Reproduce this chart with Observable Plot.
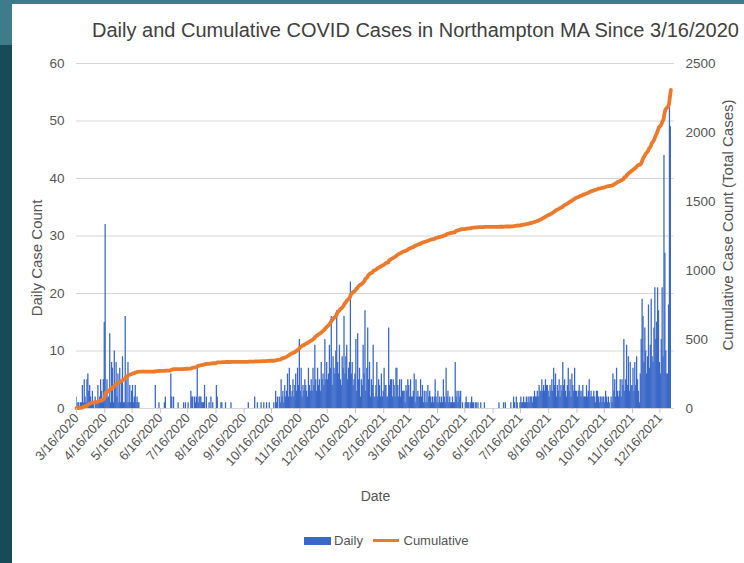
<!DOCTYPE html>
<html>
<head>
<meta charset="utf-8">
<script src="https://cdn.jsdelivr.net/npm/d3@7"></script>
<script src="https://cdn.jsdelivr.net/npm/@observablehq/plot@0.6"></script>
<style>
  html, body { margin: 0; padding: 0; }
  body { width: 744px; height: 563px; overflow: hidden; position: relative; background: #174b57;
         font-family: "Liberation Sans", Arial, Helvetica, sans-serif; }
  #topbar { position: absolute; left: 0; top: 0; width: 744px; height: 4px; background: #3f7c8b; }
  #lefttop { position: absolute; left: 0; top: 0; width: 12px; height: 45px; background: #3f7c8b; }
  #panel { position: absolute; left: 12px; top: 4px; width: 732px; height: 559px; background: #fff; overflow: hidden; }
  #title { position: absolute; left: 80px; top: 16px; font-size: 20px; line-height: 20px; color: #404040; white-space: nowrap; }
  #chart { position: absolute; left: 0; top: 46px; }
  .vlabel { position: absolute; white-space: nowrap; color: #555; font-size: 15px; transform: translate(-50%, -50%) rotate(-90deg); }
  #xlabel { position: absolute; left: 363.5px; top: 492px; transform: translate(-50%, -50%); font-size: 14px; color: #555; }
  .leg { position: absolute; font-size: 13px; color: #555; transform: translate(0, -50%); white-space: nowrap; }
</style>
</head>
<body>
<div id="topbar"></div>
<div id="lefttop"></div>
<div id="panel">
  <div id="title">Daily and Cumulative COVID Cases in Northampton MA Since 3/16/2020</div>
  <div id="chart"></div>
  <div class="vlabel" style="left:24px;top:254px;">Daily Case Count</div>
  <div class="vlabel" style="left:714.5px;top:220.5px;">Cumulative Case Count (Total Cases)</div>
  <div id="xlabel">Date</div>
  <div id="legend"></div>
</div>
<script>
// ---- data ----
const startDate = "2020-03-16";   // first day of the series
const endDate = "2022-01-01";     // right end of the date axis

// daily new cases, one value per day from 3/16/2020, grouped 16th -> 15th
const daily = [
  // 3/16 - 4/15/2020
  2,0,1,1,0,1,1,4,1,5,2,1,5,6,3,4,2,1,3,1,0,2,1,1,4,1,2,5,3,1,5,
  // 4/16 - 5/15/2020
  15,32,2,5,2,2,13,1,8,7,1,10,4,8,2,6,1,7,1,5,9,1,1,16,5,1,8,1,4,1,
  // 5/16 - 6/15/2020
  3,4,1,2,4,1,2,1,1,0,0,0,0,0,0,0,0,0,0,0,0,0,0,0,0,0,4,0,0,0,1,
  // 6/16 - 7/15/2020
  0,0,0,0,0,1,2,0,0,0,0,0,6,2,0,2,0,0,0,0,1,0,0,0,0,0,1,0,1,0,
  // 7/16 - 8/15/2020
  0,1,0,0,3,2,2,0,2,1,2,7,1,2,2,2,1,1,1,4,0,2,0,0,1,0,2,0,1,0,0,
  // 8/16 - 9/15/2020
  0,4,2,0,0,0,1,1,0,0,0,1,0,0,0,0,0,1,0,0,0,0,0,0,0,0,0,0,0,0,0,
  // 9/16 - 10/15/2020
  0,0,0,0,0,1,0,0,0,0,0,0,2,0,0,1,0,0,0,1,0,0,1,0,0,1,0,0,1,0,
  // 10/16 - 11/15/2020
  0,0,0,1,0,3,1,2,0,2,1,5,2,3,1,4,2,3,6,2,7,4,2,3,5,2,4,6,3,7,4,
  // 11/16 - 12/15/2020
  12,3,7,2,4,3,5,4,3,2,7,4,3,5,3,7,4,11,5,3,7,4,5,3,8,5,6,4,12,5,
  // 12/16/2020 - 1/15/2021
  8,5,6,11,7,16,4,9,7,6,10,17,8,6,11,5,4,9,7,16,6,9,11,5,7,8,22,6,8,4,5,
  // 1/16 - 2/15/2021
  6,12,3,13,5,7,2,5,4,11,6,17,3,7,14,5,8,2,5,4,11,2,2,4,8,2,5,4,2,6,2,
  // 2/16 - 3/15/2021
  3,7,4,4,2,2,14,4,5,5,2,5,4,2,7,7,4,2,5,2,5,3,3,3,1,4,3,5,
  // 3/16 - 4/15/2021
  4,2,5,2,2,3,6,1,5,2,3,2,2,5,2,4,1,3,1,3,1,4,2,3,2,1,2,1,2,5,2,
  // 4/16 - 5/15/2021
  1,3,1,2,1,2,1,5,2,1,7,2,3,1,2,1,1,2,1,1,8,2,3,1,3,2,3,0,1,0,
  // 5/16 - 6/15/2021
  0,1,2,1,1,1,0,1,2,1,1,0,1,1,0,1,0,0,1,0,0,0,1,0,0,0,0,0,0,0,0,
  // 6/16 - 7/15/2021
  0,0,0,0,0,0,0,1,0,0,0,0,1,0,1,0,0,0,0,0,1,0,0,2,1,0,2,1,0,0,
  // 7/16 - 8/15/2021
  1,2,1,1,2,1,1,2,1,2,1,2,2,2,1,2,3,2,2,3,2,4,3,3,5,3,4,3,5,4,4,
  // 8/16 - 9/15/2021
  3,2,4,3,5,3,7,4,6,2,4,3,5,2,4,3,8,4,5,3,2,4,7,3,5,2,6,4,3,7,3,
  // 9/16 - 10/15/2021
  3,2,3,4,3,2,3,4,2,2,2,4,2,3,5,2,3,2,2,3,2,1,3,3,2,1,2,2,1,2,
  // 10/16 - 11/15/2021
  2,1,3,2,1,2,1,0,2,1,6,3,5,2,7,3,2,3,5,2,5,4,12,3,5,11,4,9,3,8,4,
  // 11/16 - 12/15/2021
  4,7,3,8,4,9,5,3,1,6,12,19,16,8,14,10,6,9,18,7,11,19,9,8,14,21,12,15,21,17,
  // 12/16 - 12/28/2021
  8,6,12,21,9,44,27,10,6,6,18,54,49
];

const tickLabels = [
  "3/16/2020","4/16/2020","5/16/2020","6/16/2020","7/16/2020","8/16/2020","9/16/2020",
  "10/16/2020","11/16/2020","12/16/2020","1/16/2021","2/16/2021","3/16/2021","4/16/2021",
  "5/16/2021","6/16/2021","7/16/2021","8/16/2021","9/16/2021","10/16/2021","11/16/2021","12/16/2021"
];
const leftTicks = [0, 10, 20, 30, 40, 50, 60];
const rightTicks = [0, 500, 1000, 1500, 2000, 2500];
const seriesNames = ["Daily", "Cumulative"];
const colors = ["#3a68c8", "#ec7a2c"];

// ---- build ----
const parseISO = d3.utcParse("%Y-%m-%d");
const parseMDY = d3.utcParse("%m/%d/%Y");
const t0 = parseISO(startDate);
const t1 = parseISO(endDate);
const leftMax = leftTicks[leftTicks.length - 1];
const rightMax = rightTicks[rightTicks.length - 1];
const cumulative = d3.cumsum(daily);
const data = daily.map((v, i) => ({ date: d3.utcDay.offset(t0, i), daily: v, cumulative: cumulative[i] }));
const barHalf = 0.7 * 24 * 3600 * 1000;
const fmt = d => `${d.getUTCMonth() + 1}/${d.getUTCDate()}/${d.getUTCFullYear()}`;

const chart = Plot.plot({
  width: 732,
  height: 470,
  marginTop: 13,
  marginBottom: 112,
  marginLeft: 64,
  marginRight: 70,
  style: { fontFamily: "'Liberation Sans', Arial, sans-serif", fontSize: "13.5px", color: "#555", background: "transparent" },
  x: { type: "utc", domain: [t0, t1] },
  y: { domain: [0, leftMax] },
  marks: [
    Plot.gridY({ ticks: leftTicks, stroke: "#d6d6d6", strokeOpacity: 1 }),
    Plot.rectY(data, {
      x1: d => new Date(+d.date - barHalf),
      x2: d => new Date(+d.date + barHalf),
      y: "daily",
      fill: colors[0],
      clip: true
    }),
    Plot.line(data, {
      x: "date",
      y: d => d.cumulative * leftMax / rightMax,
      stroke: colors[1],
      strokeWidth: 3.8,
      strokeLinejoin: "round",
      strokeLinecap: "round"
    }),
    Plot.axisY({ anchor: "left", ticks: leftTicks, tickSize: 0, tickPadding: 12, label: null, fill: "#555" }),
    Plot.axisY({
      anchor: "right",
      ticks: rightTicks.map(v => v * leftMax / rightMax),
      tickFormat: v => String(Math.round(v * rightMax / leftMax)),
      tickSize: 0, tickPadding: 11, label: null, fill: "#555"
    }),
    Plot.axisX({
      ticks: tickLabels.map(parseMDY),
      tickFormat: fmt,
      tickRotate: -48,
      tickSize: 5,
      tickPadding: 2,
      stroke: "#c4c4c4",
      fill: "#555",
      fontSize: 13,
      label: null
    })
  ]
});
document.getElementById("chart").appendChild(chart);

// ---- legend ----
const legend = document.getElementById("legend");
legend.innerHTML = `
  <div style="position:absolute;left:292.3px;top:532.7px;width:26.4px;height:8px;background:${colors[0]}"></div>
  <div class="leg" style="left:322px;top:536px;">${seriesNames[0]}</div>
  <div style="position:absolute;left:360.7px;top:534.5px;width:26.6px;height:3px;background:${colors[1]}"></div>
  <div class="leg" style="left:391.5px;top:536px;">${seriesNames[1]}</div>`;
</script>
</body>
</html>
